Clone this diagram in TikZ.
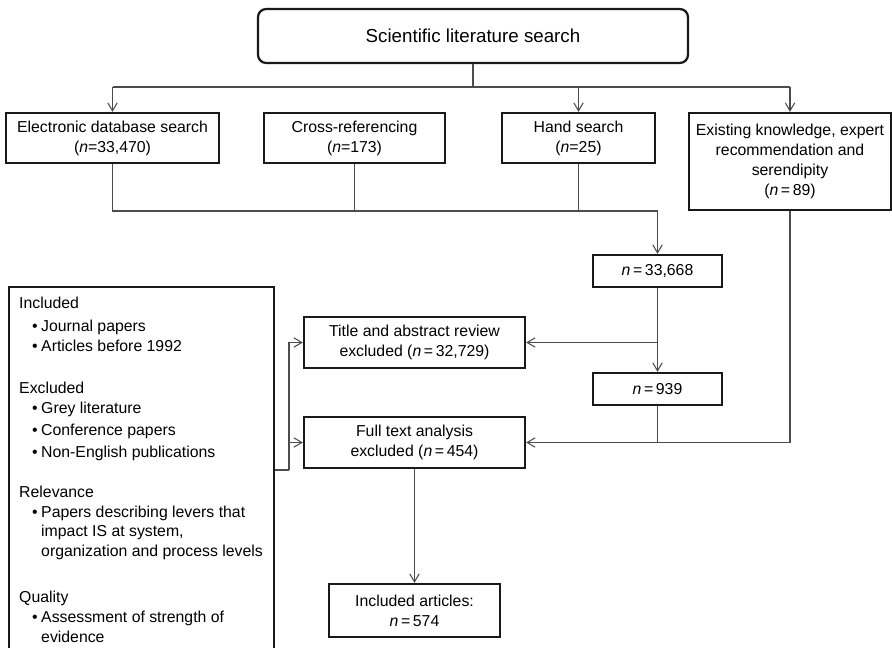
\documentclass[tikz,border=0pt]{standalone}
\usepackage{fontspec}
\setmainfont{Liberation Sans}
\usetikzlibrary{arrows.meta}
\newcommand{\critem}[1]{\hspace*{0.39cm}\makebox[0.27cm][l]{\textbullet}#1}
\newcommand{\critcont}[1]{\hspace*{0.66cm}#1}
\begin{document}
\begin{tikzpicture}[x=0.03cm,y=-0.03cm,
  font=\fontsize{13.5}{17}\selectfont,
  flowbox/.style={draw=black!90, line width=1.9pt, align=center, inner sep=0pt},
  link/.style={draw=black!70, line width=0.9pt},
  linkarrow/.style={link, -{Straight Barb[length=2.4mm,width=2.8mm]}}]
\clip (0,0) rectangle (892,648);
\fill [white] (0,0) rectangle (892,648);
\node [flowbox, rounded corners=7pt, minimum width=430*0.03cm, minimum height=54*0.03cm, font=\fontsize{16}{19}\selectfont] (top) at (473,36) {Scientific literature search};
\node [flowbox, minimum width=213*0.03cm, minimum height=50*0.03cm] (elec) at (112.5,138) {Electronic database search\\(\textit{n}=33,470)};
\node [flowbox, minimum width=181*0.03cm, minimum height=50*0.03cm] (cross) at (354.5,138) {Cross-referencing\\(\textit{n}=173)};
\node [flowbox, minimum width=153*0.03cm, minimum height=50*0.03cm] (hand) at (578.5,138) {Hand search\\(\textit{n}=25)};
\node [flowbox, minimum width=202*0.03cm, minimum height=97*0.03cm] (exist) at (790,161.5) {Existing knowledge, expert\\recommendation and\\serendipity\\(\textit{n}\,=\,89)};
\node [flowbox, minimum width=129*0.03cm, minimum height=32*0.03cm] (pool) at (657.5,271) {\textit{n}\,=\,33,668};
\node [flowbox, minimum width=221*0.03cm, minimum height=51*0.03cm] (title) at (414.5,342.5) {Title and abstract review\\excluded (\textit{n}\,=\,32,729)};
\node [flowbox, minimum width=129*0.03cm, minimum height=32*0.03cm] (kept) at (657.5,389) {\textit{n}\,=\,939};
\node [flowbox, minimum width=221*0.03cm, minimum height=51*0.03cm] (full) at (414.5,442.5) {Full text analysis\\excluded (\textit{n}\,=\,454)};
\node [flowbox, minimum width=171*0.03cm, minimum height=53*0.03cm] (incl) at (414.5,610.5) {Included articles:\\\textit{n}\,=\,574};
\node [flowbox, minimum width=265*0.03cm, minimum height=380*0.03cm, anchor=north west] (crit) at (8,286) {};
\node [anchor=north west, align=left, inner sep=0pt] (crittext) at (19,297) {Included\\[0.09cm]
\critem{Journal papers}\\
\critem{Articles before 1992}\\[0.66cm]
Excluded\\
\critem{Grey literature}\\[0.06cm]
\critem{Conference papers}\\[0.06cm]
\critem{Non-English publications}\\[0.6cm]
Relevance\\
\critem{Papers describing levers that}\\
\critcont{impact IS at system,}\\
\critcont{organization and process levels}\\[0.78cm]
Quality\\
\critem{Assessment of strength of}\\
\critcont{evidence}};
\coordinate (split) at (473,87);
\coordinate (join) at (657.5,211);
\coordinate (fork) at (289,470);
\draw [link] (top.south) -- (split);
\draw [link] (elec.north |- split) -- (exist.north |- split);
\draw [linkarrow] (elec.north |- split) -- (elec.north);
\draw [linkarrow] (hand.north |- split) -- (hand.north);
\draw [linkarrow] (exist.north |- split) -- (exist.north);
\draw [link] (cross.south) -- (cross.south |- join);
\draw [link] (hand.south) -- (hand.south |- join);
\draw [linkarrow] (elec.south) |- (join) -- (pool.north);
\draw [linkarrow] (pool.south) -- (kept.north);
\draw [linkarrow] (pool.south |- title.east) -- (title.east);
\draw [link] (exist.south) |- (kept.south |- full.east);
\draw [linkarrow] (kept.south) |- (full.east);
\draw [link] (crit.east |- fork) -- (fork);
\draw [linkarrow] (fork) |- (title.west);
\draw [linkarrow] (fork) |- (full.west);
\draw [linkarrow] (full.south) -- (incl.north);
\end{tikzpicture}
\end{document}
